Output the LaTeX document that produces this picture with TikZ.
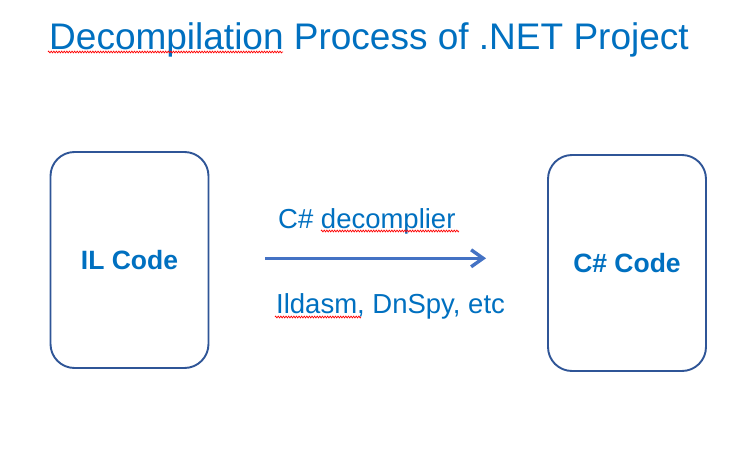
\documentclass[tikz,border=0pt]{standalone}
\usepackage{fontspec}
\setmainfont{Liberation Sans}
\usetikzlibrary{arrows.meta,decorations.pathmorphing}
\definecolor{txtblue}{RGB}{0,112,192}
\definecolor{boxblue}{RGB}{47,85,151}
\definecolor{arrblue}{RGB}{68,114,196}
\tikzset{
  codebox/.style={draw=boxblue, line width=1.9pt, rounded corners=24pt,
    minimum width=158pt, minimum height=216pt, text=txtblue,
    font=\fontsize{26.5pt}{30pt}\selectfont\bfseries, inner sep=0pt},
  lbl/.style={text=txtblue, inner sep=0pt, anchor=base west,
    font=\fontsize{27.5pt}{31pt}\selectfont},
  squig/.style={draw=red, line width=0.7pt,
    decorate, decoration={zigzag, segment length=2.6pt, amplitude=0.9pt}},
  flow/.style={draw=arrblue, line width=3.4pt,
    -{Straight Barb[length=12pt, width=17pt, line width=3.4pt]}}
}
\begin{document}
\begin{tikzpicture}[x=1pt, y=-1pt]
\useasboundingbox (0,0) rectangle (740,450);
\fill[white] (0,0) rectangle (740,450);
% title
\node[text=txtblue, inner sep=0pt, anchor=base,
  font=\fontsize{37pt}{42pt}\selectfont] (title) at (369,49)
  {Decompilation Process of .NET Project};
\draw[squig] (48,52) -- (283,52);
% boxes
\node[codebox] (il) at (129.5,260) {IL Code};
\node[codebox] (cs) at (627,263) {C\# Code};
% arrow
\draw[flow, shorten <=56pt, shorten >=61pt]
  ([yshift=1.7pt]il.east) -- ([yshift=1.7pt]il.east -| cs.west);
% labels
\node[lbl] (dec) at (278,228) {C\# decomplier};
\draw[squig] (321,231) -- (459,231);
\node[lbl] (tools) at (276,313) {Ildasm, DnSpy, etc};
\draw[squig] (275,317) -- (361,317);
\end{tikzpicture}
\end{document}
